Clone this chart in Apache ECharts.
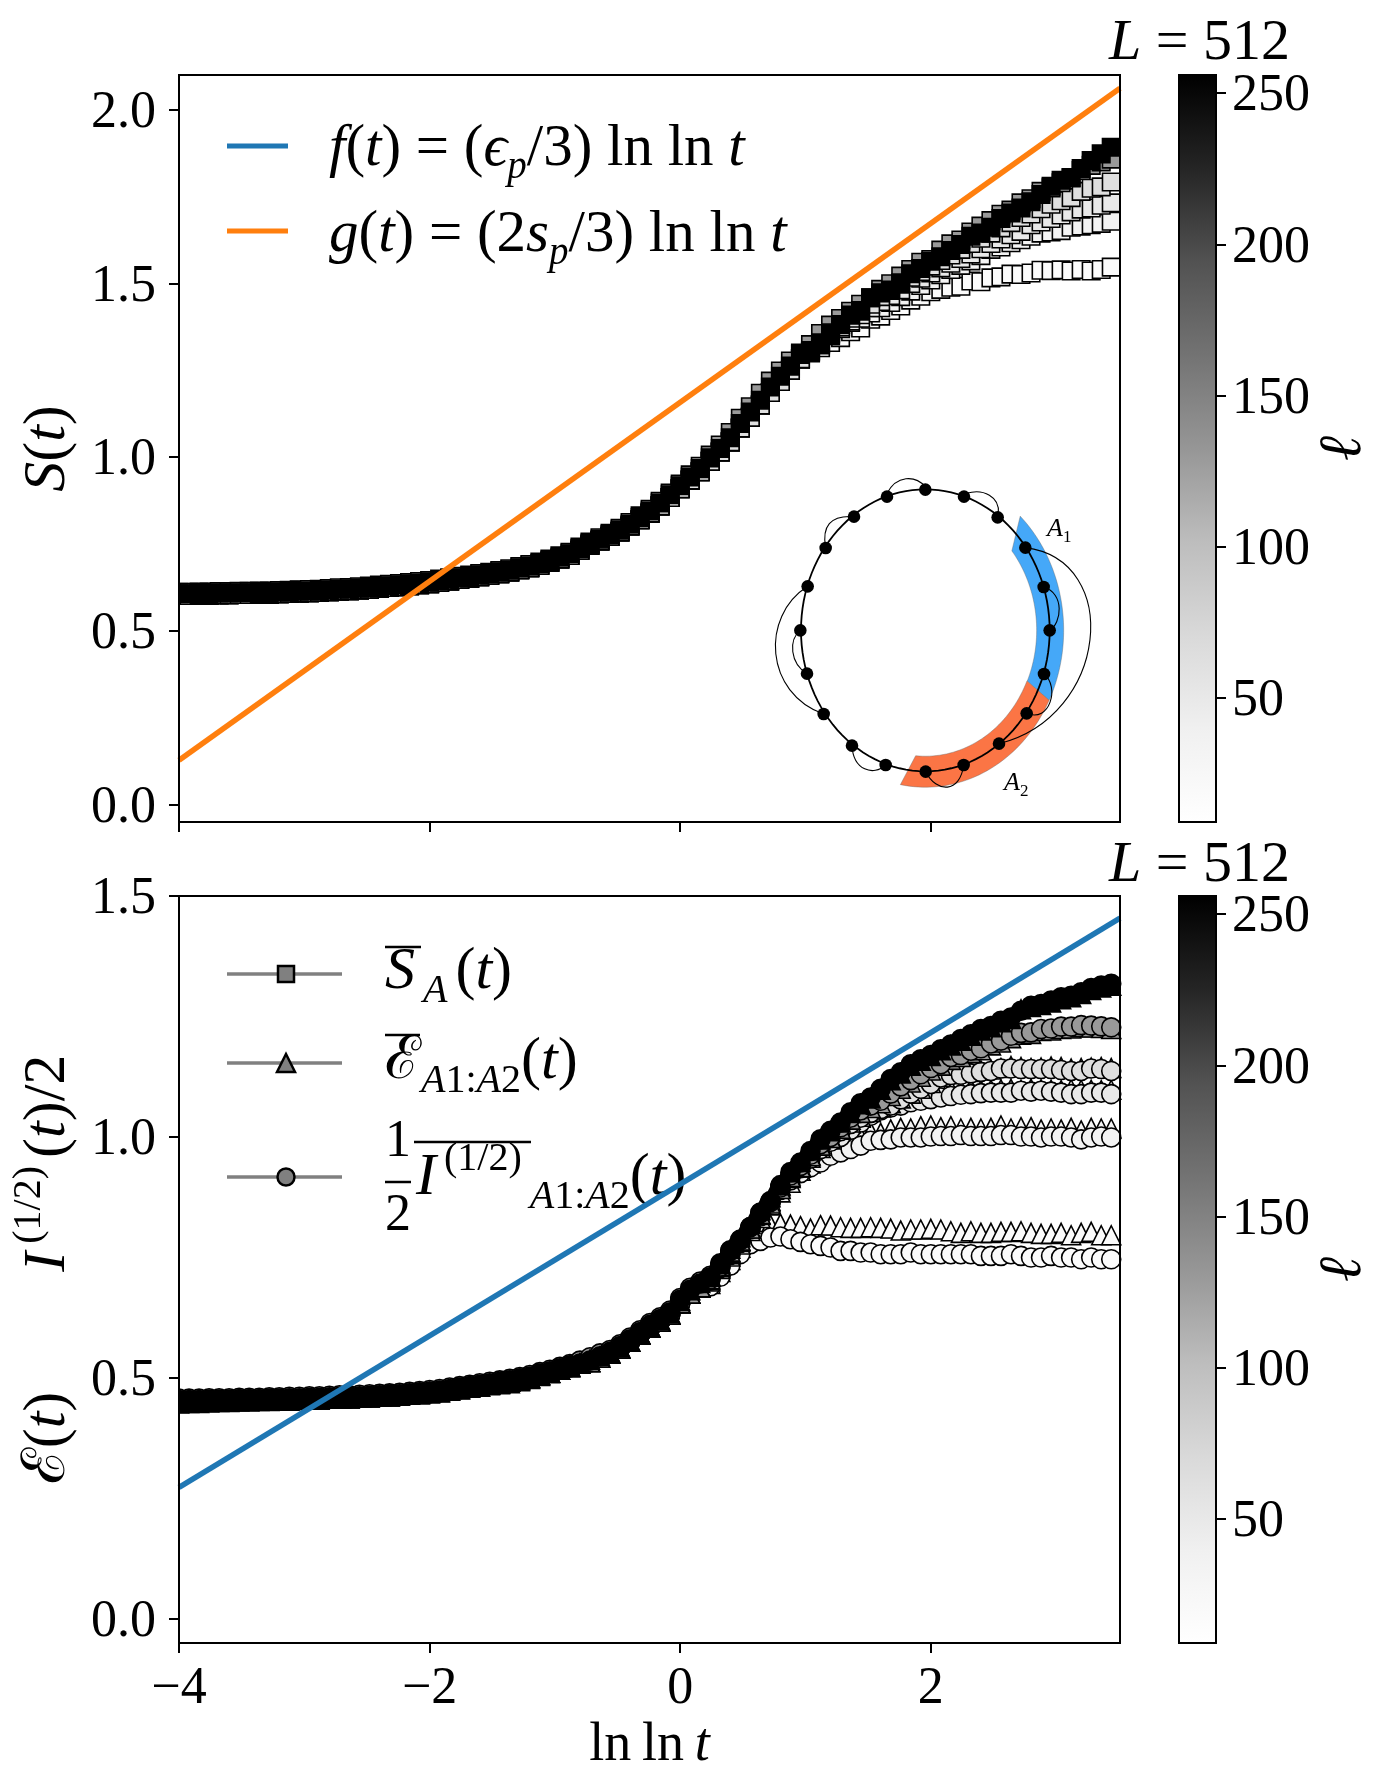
<!DOCTYPE html>
<html><head><meta charset="utf-8">
<style>html,body{margin:0;padding:0;background:#fff}#c{width:1392px;height:1792px}</style>
<script src="https://cdn.jsdelivr.net/npm/echarts@6/dist/echarts.min.js"></script>
</head><body><div id="c"></div>
<script>
// ---------- DATA ----------
const xValues = [-4,-3.92,-3.84,-3.76,-3.68,-3.6,-3.52,-3.44,-3.36,-3.28,
-3.2,-3.12,-3.04,-2.96,-2.88,-2.8,-2.72,-2.64,-2.56,-2.48,
-2.4,-2.32,-2.24,-2.16,-2.08,-2,-1.92,-1.84,-1.76,-1.68,
-1.6,-1.52,-1.44,-1.36,-1.28,-1.2,-1.12,-1.04,-0.96,-0.88,
-0.8,-0.72,-0.64,-0.56,-0.48,-0.4,-0.32,-0.24,-0.16,-0.08,
0,0.08,0.16,0.24,0.32,0.4,0.48,0.56,0.64,0.72,
0.8,0.88,0.96,1.04,1.12,1.2,1.28,1.36,1.44,1.52,
1.6,1.68,1.76,1.84,1.92,2,2.08,2.16,2.24,2.32,
2.4,2.48,2.56,2.64,2.72,2.8,2.88,2.96,3.04,3.12,
3.2,3.28,3.36,3.44,3.52];

const ellValues = [16,32,45,64,128,256];
const ellColors = ['#fbfbfb','#f3f3f3','#e9e9e9','#dfdfdf','#999999','#000000'];

// top panel S(t)
const sLightHead = [.602,.602,.603,.603,.604,.604,.605,.605,.606,.606,
.607,.608,.609,.610,.611,.613,.615,.616,.618,.620,
.623,.625,.627,.630,.633,.636,.640,.644,.648,.652,
.656,.660,.665,.670,.676,.682,.689,.698,.707,.717,
.732,.747,.759,.772,.785,.802,.820,.839,.860,.884,
.909,.934,.958,.988,1.015,1.044,1.084,1.115,1.150,1.186,
1.218,1.250,1.283];
const s16Tail = [1.30,1.315,1.33,1.344,1.361,1.372,1.397,1.406,1.422,1.435,
1.452,1.463,1.476,1.483,1.489,1.492,1.507,1.505,1.516,1.519,
1.527,1.526,1.53,1.538,1.537,1.539,1.536,1.54,1.536,1.54,1.547,1.545];
const s32Tail = [1.302,1.323,1.35,1.37,1.388,1.40,1.415,1.43,1.445,1.462,
1.478,1.494,1.51,1.525,1.54,1.552,1.565,1.58,1.598,1.605,
1.617,1.626,1.636,1.645,1.648,1.652,1.662,1.665,1.669,1.673,1.679,1.681];
const s45Tail = [1.304,1.326,1.352,1.375,1.392,1.41,1.43,1.448,1.465,1.482,
1.50,1.515,1.53,1.545,1.558,1.572,1.585,1.60,1.615,1.628,
1.64,1.65,1.669,1.677,1.687,1.697,1.706,1.714,1.717,1.725,1.732,1.74];
const s64Tail = [1.305,1.328,1.356,1.382,1.40,1.42,1.44,1.462,1.48,1.498,
1.518,1.534,1.55,1.566,1.582,1.598,1.615,1.63,1.645,1.66,
1.675,1.69,1.70,1.715,1.728,1.738,1.747,1.765,1.774,1.778,1.792,1.79];
const s128 = [.611,.611,.612,.612,.613,.613,.614,.614,.615,.615,
.616,.617,.618,.619,.620,.622,.624,.625,.627,.629,
.632,.634,.636,.639,.642,.645,.649,.653,.657,.661,
.665,.669,.674,.679,.685,.691,.698,.707,.716,.726,
.741,.756,.768,.781,.795,.812,.831,.850,.873,.897,
.923,.949,.974,1.006,1.035,1.071,1.112,1.145,1.184,1.219,
1.248,1.277,1.30,1.324,1.356,1.38,1.399,1.42,1.44,1.459,
1.483,1.499,1.521,1.54,1.561,1.569,1.596,1.614,1.625,1.648,
1.665,1.681,1.699,1.711,1.732,1.744,1.765,1.775,1.79,1.805,
1.825,1.84,1.85,1.858,1.869];
const s256 = [.607,.607,.608,.608,.609,.609,.610,.610,.611,.611,
.612,.613,.614,.615,.616,.618,.620,.621,.623,.625,
.628,.630,.632,.635,.638,.641,.645,.649,.653,.657,
.661,.665,.670,.675,.681,.687,.694,.703,.712,.722,
.737,.752,.764,.777,.790,.807,.826,.845,.868,.892,
.918,.943,.967,.998,1.025,1.056,1.097,1.13,1.164,1.202,
1.233,1.262,1.296,1.307,1.329,1.358,1.382,1.409,1.422,1.459,
1.473,1.481,1.502,1.528,1.543,1.564,1.577,1.595,1.612,1.636,
1.645,1.662,1.687,1.703,1.717,1.735,1.756,1.780,1.797,1.804,
1.831,1.854,1.873,1.892,1.906];

// bottom panel: half Renyi mutual information (circles), negativity (triangles)
const iLightHead = [.451,.451,.451,.452,.452,.452,.453,.453,.453,.454,
.454,.455,.455,.456,.456,.457,.458,.458,.459,.460,
.461,.462,.463,.465,.467,.469,.471,.474,.477,.480,
.483,.486,.489,.492,.496,.500,.506,.511,.517,.523,
.530,.533,.542,.551,.561,.575,.590,.604,.617,.631,
.655,.675,.688];
const i16Tail = [.69,.71,.733,.757,.7775,.7844,.7913,.7934,.7879,.7823,
.7775,.774,.7706,.7636,.7636,.7602,.7602,.7567,.7567,.7567,
.7602,.7567,.7567,.7567,.7567,.7567,.7567,.7532,.7532,.7532,
.7567,.7532,.7498,.7498,.7532,.7498,.7498,.7463,.7498,.7463,.7463,.7445];
const i32Tail = [.702,.728,.755,.78,.808,.835,.862,.89,.91,.925,
.937,.947,.961,.968,.975,.982,.992,.994,.995,.999,
.999,.999,1.001,1.002,1.002,1.004,1.002,1.002,1.002,1.004,
1.004,1.001,1.001,.999,1.001,1.001,.999,.995,.999,1.001,.999,.999];
const i45Tail = [.704,.73,.757,.781,.81,.838,.865,.895,.917,.935,
.955,.975,.99,1.0,1.015,1.03,1.044,1.055,1.061,1.065,
1.072,1.075,1.0785,1.082,1.085,1.0875,1.089,1.091,1.092,1.092,
1.092,1.096,1.094,1.096,1.094,1.092,1.089,1.089,1.092,1.092,1.089,1.089];
const i64Tail = [.705,.731,.759,.783,.811,.84,.865,.897,.92,.94,
.96,.982,.998,1.012,1.027,1.04,1.05,1.058,1.065,1.078,
1.09,1.10,1.11,1.1235,1.1285,1.129,1.132,1.135,1.137,1.142,
1.142,1.141,1.141,1.141,1.141,1.139,1.137,1.137,1.142,1.141,1.137,1.137];
const i128 = [.457,.457,.457,.458,.458,.458,.459,.459,.459,.460,
.460,.461,.461,.462,.462,.463,.464,.464,.465,.466,
.467,.468,.469,.471,.473,.475,.477,.480,.483,.486,
.489,.492,.495,.498,.502,.506,.512,.517,.523,.529,
.536,.543,.551,.558,.570,.584,.599,.614,.626,.640,
.666,.687,.700,.712,.738,.765,.787,.813,.842,.865,
.895,.92,.94,.963,.985,1.00,1.02,1.04,1.055,1.065,
1.075,1.09,1.105,1.118,1.13,1.143,1.151,1.166,1.17,1.179,
1.184,1.194,1.2,1.21,1.216,1.217,1.224,1.225,1.229,1.229,
1.232,1.231,1.2295,1.2275,1.2275];
const i256 = [.454,.454,.454,.455,.455,.455,.456,.456,.456,.457,
.457,.458,.458,.459,.459,.460,.461,.461,.462,.463,
.464,.465,.466,.468,.470,.472,.474,.477,.480,.483,
.486,.489,.492,.495,.499,.503,.509,.514,.520,.526,
.53,.536,.545,.554,.566,.58,.595,.61,.622,.636,
.662,.683,.696,.709,.736,.7636,.786,.813,.843,.867,
.90,.927,.947,.971,.995,1.013,1.03,1.051,1.07,1.082,
1.10,1.12,1.134,1.151,1.161,1.17,1.182,1.192,1.203,1.213,
1.224,1.23,1.241,1.248,1.262,1.272,1.276,1.283,1.29,1.293,
1.30,1.309,1.314,1.318,1.317];
const e16Tail = [.695,.72,.745,.77,.795,.81,.8183,.8204,.8183,.8148,
.81,.8169,.8162,.8127,.8113,.8113,.8127,.8113,.81,.8058,
.808,.808,.8093,.808,.8044,.801,.8044,.801,.801,.803,
.803,.8044,.801,.7989,.7989,.801,.7961,.801,.803,.7961,.7961,.794];
const e32Tail = [.70,.726,.752,.777,.805,.832,.858,.885,.905,.93,
.945,.96,.97,.98,.99,1.0,1.0107,1.0085,1.0156,1.019,
1.0176,1.0224,1.0238,1.0203,1.0224,1.0176,1.019,1.0176,1.019,1.0238,
1.0176,1.0203,1.0203,1.0156,1.0176,1.0156,1.019,1.0135,1.019,1.0176,1.0176,1.0176];
const e45Tail = [.703,.73,.757,.782,.81,.838,.865,.893,.915,.937,
.957,.977,.995,1.012,1.028,1.04,1.052,1.062,1.07,1.08,
1.088,1.093,1.097,1.098,1.099,1.098,1.10,1.097,1.098,1.099,
1.10,1.098,1.10,1.099,1.098,1.097,1.099,1.098,1.098,1.097,1.098,1.097];
const e64Tail = [.705,.732,.76,.785,.812,.84,.868,.898,.92,.94,
.962,.985,1.00,1.015,1.03,1.042,1.052,1.062,1.07,1.08,
1.09,1.10,1.112,1.125,1.13,1.133,1.135,1.138,1.14,1.143,
1.147,1.145,1.143,1.144,1.146,1.145,1.142,1.143,1.144,1.145,1.143,1.143];
const e128Tail = [.71,.736,.762,.785,.81,.84,.862,.892,.917,.937,
.96,.982,.998,1.017,1.036,1.05,1.06,1.07,1.085,1.10,
1.113,1.125,1.138,1.148,1.16,1.166,1.174,1.18,1.19,1.196,
1.205,1.212,1.214,1.22,1.221,1.224,1.225,1.228,1.227,1.226,1.224,1.224];
const e256 = [.447,.448,.448,.449,.450,.450,.451,.451,.452,.452,
.453,.453,.454,.455,.456,.457,.458,.459,.460,.461,
.462,.463,.464,.466,.468,.470,.471,.474,.477,.480,
.483,.485,.487,.489,.493,.498,.504,.510,.517,.525,
.531,.538,.545,.553,.563,.575,.592,.606,.620,.634,
.660,.682,.697,.712,.738,.768,.792,.82,.848,.875,
.90,.927,.948,.972,.995,1.012,1.03,1.05,1.068,1.08,
1.098,1.118,1.132,1.148,1.158,1.168,1.18,1.19,1.20,1.21,
1.221,1.228,1.238,1.245,1.265,1.27,1.274,1.279,1.286,1.29,
1.297,1.305,1.31,1.314,1.314];

// straight reference lines
const lineX = [-4,3.51];
const gLine = [0.128,2.062];
const fLine = [0.273,1.454];

// ticks
const xTicks = [-4,-2,0,2];
const yTicksTop = [0,0.5,1,1.5,2];
const yTicksBottom = [0,0.5,1,1.5];
const cbTicks = [50,100,150,200,250];
const cbRange = [9,256];

// ---------- COMPOSITION ----------
const sSeries = [sLightHead.concat(s16Tail),sLightHead.concat(s32Tail),sLightHead.concat(s45Tail),sLightHead.concat(s64Tail),s128,s256];
const iSeries = [iLightHead.concat(i16Tail),iLightHead.concat(i32Tail),iLightHead.concat(i45Tail),iLightHead.concat(i64Tail),i128,i256];
const eSeries = [iLightHead.concat(e16Tail),iLightHead.concat(e32Tail),iLightHead.concat(e45Tail),iLightHead.concat(e64Tail),iLightHead.concat(e128Tail),e256];

const F = "'Liberation Serif','DejaVu Serif',serif";
const SIZE = 52, BIG = 60;
function rich(size){
  const base = {fontFamily:F,fontSize:size,fontWeight:'normal',color:'#000',fill:'#000'};
  return {
    r:Object.assign({},base,{lineHeight:Math.round(size*1.3)}),
    i:Object.assign({},base,{fontStyle:'italic',lineHeight:Math.round(size*1.3)}),
    s:Object.assign({},base,{fontSize:Math.round(size*.66),fontStyle:'italic',verticalAlign:'bottom'}),
    n:Object.assign({},base,{fontSize:Math.round(size*.66),verticalAlign:'bottom'}),
    u:Object.assign({},base,{fontSize:Math.round(size*.66),verticalAlign:'top'})
  };
}
const R = rich(BIG);
const serie = [];
const scatter = (gi,data,sym,color,name,size)=>({
  type:'scatter',name,xAxisIndex:gi,yAxisIndex:gi,symbol:sym,symbolSize:size,clip:true,silent:true,
  itemStyle:{color,borderColor:'#000',borderWidth:1.6,opacity:1},
  data:data.map((v,k)=>[xValues[k],v])
});
ellValues.forEach((l,j)=>serie.push(scatter(0,sSeries[j],'rect',ellColors[j],'S l='+l,17.5)));
ellValues.forEach((l,j)=>{
  serie.push(scatter(1,eSeries[j],'triangle',ellColors[j],'E l='+l,19));
  serie.push(scatter(1,iSeries[j],'circle',ellColors[j],'I l='+l,19));
});
const mkLine=(gi,ys,color,name)=>({type:'line',name,xAxisIndex:gi,yAxisIndex:gi,showSymbol:false,symbol:'none',silent:true,z:5,
  lineStyle:{color,width:5.5,cap:'butt'},data:lineX.map((x,i)=>[x,ys[i]])});
serie.push(mkLine(0,gLine,'#ff7f0e','g'));
serie.push(mkLine(1,fLine,'#1f77b4','f'));

const greys=[[0,'#ffffff'],[.125,'#f0f0f0'],[.25,'#d9d9d9'],[.375,'#bdbdbd'],[.5,'#969696'],[.625,'#737373'],[.75,'#525252'],[.875,'#252525'],[1,'#000000']];
const cbar = gi=>({type:'custom',xAxisIndex:gi,yAxisIndex:gi,silent:true,data:[[0,cbRange[0],1,cbRange[1]]],
  renderItem:(p,api)=>{
    const a=api.coord([api.value(0),api.value(1)]), b=api.coord([api.value(2),api.value(3)]);
    return {type:'rect',shape:{x:a[0],y:b[1],width:b[0]-a[0],height:a[1]-b[1]},
      style:{fill:new echarts.graphic.LinearGradient(0,1,0,0,greys.map(s=>({offset:s[0],color:s[1]})))}};
  }});
serie.push(cbar(2),cbar(3));

const tickStyle={show:true,length:10,lineStyle:{color:'#000',width:2}};
const labelStyle={fontFamily:F,fontSize:SIZE,color:'#000'};
const tickRich={d:{fontFamily:F,fontSize:SIZE,color:'#000',padding:[7,0,0,0]}};
const xAx=(gi,labels,extra)=>Object.assign({type:'value',gridIndex:gi,min:-4,max:3.51,splitLine:{show:false},
  axisLine:{show:false,onZero:false},
  axisTick:Object.assign({},tickStyle,{customValues:xTicks}),
  axisLabel:Object.assign({},labelStyle,{show:labels,margin:20,hideOverlap:false,customValues:xTicks,formatter:v=>String(v).replace('-','\u2212')})},extra||{});
const yAx=(gi,min,max,ticks,nameText,gap)=>({type:'value',gridIndex:gi,min,max,splitLine:{show:false},
  axisLine:{show:false,onZero:false},
  axisTick:Object.assign({},tickStyle,{customValues:ticks}),
  axisLabel:Object.assign({},labelStyle,{margin:23,rich:tickRich,customValues:ticks,formatter:v=>'{d|'+v.toFixed(1)+'}'}),
  name:nameText,nameLocation:'middle',nameGap:gap,nameTextStyle:{fontFamily:F,fontSize:BIG,color:'#000',rich:R}});
const cbX=gi=>({type:'value',gridIndex:gi,min:0,max:1,show:false});
const cbY=gi=>({type:'value',gridIndex:gi,position:'right',min:cbRange[0],max:cbRange[1],splitLine:{show:false},
  axisLine:{show:false,onZero:false},
  axisTick:Object.assign({},tickStyle,{customValues:cbTicks}),
  axisLabel:Object.assign({},labelStyle,{margin:16,rich:tickRich,customValues:cbTicks,formatter:v=>'{d|'+v+'}'}),
  name:'{i|\u2113}',nameLocation:'middle',nameGap:89,nameRotate:90,nameTextStyle:{fontFamily:F,fontSize:BIG,color:'#000',rich:R}});

// ---------- non-data decoration ----------
const g=[];
// white strips trim the half markers that spill left of the axes (scatter clip only drops whole points)
[[164,578,14,32],[164,1386,14,30]].forEach(a=>g.push({type:'rect',silent:true,z:55,shape:{x:a[0],y:a[1],width:a[2],height:a[3]},style:{fill:'#fff'}}));
const frame=(x,y,w,h)=>g.push({type:'rect',silent:true,z:60,shape:{x,y,width:w,height:h},style:{fill:null,stroke:'#000',lineWidth:2}});
[[179,75,941,747],[179,896,941,747],[1179,75,37,747],[1179,896,37,747]].forEach(a=>frame(...a));
const lineEl=(x1,y1,x2,y2,color,w,z)=>g.push({type:'line',silent:true,z:z||50,shape:{x1,y1,x2,y2},style:{stroke:color,lineWidth:w}});
const txt=(text,x,y,size,z)=>g.push({type:'text',silent:true,z:z||50,x,y,style:{text,x:0,y:0,align:'left',verticalAlign:'middle',fontFamily:F,fontSize:size,fill:'#000',rich:rich(size),lineHeight:Math.round(size*1.3)}});

// top legend
lineEl(227,146,288,146,'#1f77b4',5);
lineEl(227,231,288,231,'#ff7f0e',5);
txt('{i|f}{r|(}{i|t}{r|) = (}{i|\u03f5}{s|p}{r|/3) ln ln }{i|t}',329,149,59);
txt('{i|g}{r|(}{i|t}{r|) = (2}{i|s}{s|p}{r|/3) ln ln }{i|t}',329,235,59);

// bottom legend
[[974,'rect'],[1063,'tri'],[1177,'circ']].forEach(([y,k])=>{
  lineEl(227,y,342,y,'#808080',3.5);
  const st={fill:'#808080',stroke:'#000',lineWidth:2.5};
  if(k==='rect') g.push({type:'rect',silent:true,z:51,shape:{x:278,y:y-8,width:16,height:16},style:st});
  if(k==='tri') g.push({type:'polygon',silent:true,z:51,shape:{points:[[286,y-9],[295,y+9],[277,y+9]]},style:st});
  if(k==='circ') g.push({type:'circle',silent:true,z:51,shape:{cx:286,cy:y,r:8.5},style:st});
});
lineEl(385,947,421,947,'#000',2.5,1);
txt('{i|S}{n|\u2009}{s|A}{n|\u2009}{r|(}{i|t}{r|)}',385,972,BIG,1);
lineEl(385,1035,420,1035,'#000',2.5,1);
txt('{r|\u2130}{s|A}{n|1:}{s|A}{n|2}{r|(}{i|t}{r|)}',385,1062,BIG,1);
txt('{r|1}',385,1142,SIZE,1);
txt('{r|2}',385,1216,SIZE,1);
lineEl(385,1182,411,1182,'#000',2.5,1);
lineEl(414,1142,531,1142,'#000',2.5,1);
txt('{i|I}{u|\u2009(1/2)\u2009}{s|A}{n|1:}{s|A}{n|2}{r|(}{i|t}{r|)}',416,1178,BIG,1);

// inset: ring illustration (coordinates of a schematic, not of data)
const ix=X=>740+X/3, iy=Y=>460+Y/3;
const CX=556,CY=511,KY=423/373;
const ptOn=(deg,r)=>{const a=deg*Math.PI/180;return [ix(CX+r*Math.cos(a)),iy(CY+r*KY*Math.sin(a))];};
const arcPts=(a,b,r,n=40)=>{const o=[];for(let i=0;i<=n;i++)o.push(ptOn(a+(b-a)*i/n,r));return o;};
g.push({type:'polygon',silent:true,z:40,shape:{points:arcPts(-46.7,26.5,415).concat(arcPts(23.7,-39,334))},style:{fill:'#45a8f8',stroke:'#666',lineWidth:.4}});
g.push({type:'polygon',silent:true,z:40,shape:{points:arcPts(26.5,100.4,415).concat(arcPts(95,23.7,333))},style:{fill:'#fb7545',stroke:'#666',lineWidth:.4}});
g.push({type:'polygon',silent:true,z:41,shape:{points:arcPts(0,360,373,120)},style:{fill:null,stroke:'#000',lineWidth:1.8}});
const inArcs=[[441,100,470,45,525,45,556,80],[680,100,730,85,780,110,775,160],[342,170,270,165,245,200,257,264],
[203,379,60,470,75,700,251,762],[181,511,145,540,150,610,201,641],[856,263,1150,300,1105,770,777,851],
[911,381,975,400,965,490,929,511],[912,642,960,680,930,790,860,760],[557,935,590,1000,660,1000,671,915],[336,857,340,930,400,950,437,915]];
inArcs.forEach(a=>g.push({type:'bezierCurve',silent:true,z:41,shape:{x1:ix(a[0]),y1:iy(a[1]),cpx1:ix(a[2]),cpy1:iy(a[3]),cpx2:ix(a[4]),cpy2:iy(a[5]),x2:ix(a[6]),y2:iy(a[7])},style:{fill:null,stroke:'#000',lineWidth:1.1}}));
const inNodes=[[556,89],[672,110],[773,172],[856,263],[911,381],[929,511],[912,642],[860,760],[777,851],[671,915],[557,935],[437,915],[336,857],[251,762],[201,641],[181,511],[203,379],[257,264],[342,170],[441,110]];
inNodes.forEach(n=>g.push({type:'circle',silent:true,z:42,shape:{cx:ix(n[0]),cy:iy(n[1]),r:6.3},style:{fill:'#000'}}));
txt('{i|A}{n|1}',1047,529,26,42);
txt('{i|A}{n|2}',1004,783,26,42);

const titles=[41,863].map(y=>({text:'{i|L}{r| = 512}',left:1104,top:y-40,textStyle:{fontFamily:F,fontSize:57,fontWeight:'normal',color:'#000',rich:rich(58)}}));
const gridOpt=(left,top,width,height)=>({left,top,width,height,outerBoundsMode:'none',containLabel:false});

const chart=echarts.init(document.getElementById('c'),null,{renderer:'canvas'});
chart.setOption({
  animation:false,backgroundColor:'#fff',title:titles,tooltip:{show:false},
  grid:[gridOpt(179,75,941,747),gridOpt(179,896,941,747),gridOpt(1179,75,37,747),gridOpt(1179,896,37,747)],
  xAxis:[xAx(0,false),xAx(1,true,{name:'{r|ln\u2009ln\u2009}{i|t}',nameLocation:'middle',nameGap:68,nameTextStyle:{fontFamily:F,fontSize:54,color:'#000',rich:rich(54)}}),cbX(2),cbX(3)],
  yAxis:[yAx(0,-0.05,2.1,yTicksTop,'{i|S}{r|(}{i|t}{r|)}',92),
         yAx(1,-0.05,1.5,yTicksBottom,'{r|\u2130(}{i|t}{r|)        }{i|I}{u|\u2009(1/2)\u2009}{r|(}{i|t}{r|)/2}',92),
         cbY(2),cbY(3)],
  series:serie,graphic:{elements:g}
});
</script></body></html>
